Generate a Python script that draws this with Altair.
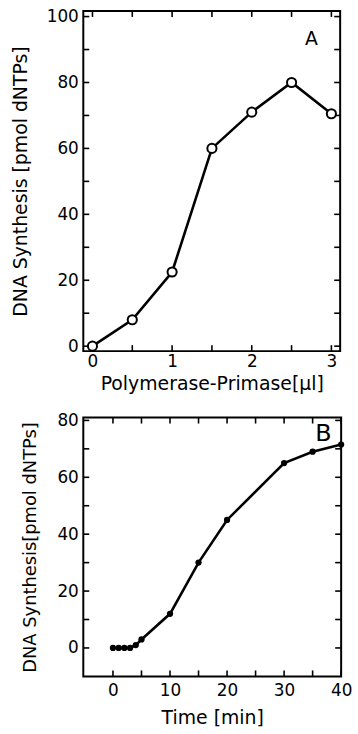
import altair as alt
import pandas as pd

# Panel A data
a_x = [0, 0.5, 1, 1.5, 2, 2.5, 3]
a_y = [0, 8, 22.5, 60, 71, 80, 70.5]
a_xticks = [0, 0.5, 1, 1.5, 2, 2.5, 3]
a_yticks = [0, 10, 20, 30, 40, 50, 60, 70, 80, 90, 100]
a_xlabels = [0, 1, 2, 3]
a_ylabels = [0, 20, 40, 60, 80, 100]

# Panel B data
b_x = [0, 1, 2, 3, 4, 5, 10, 15, 20, 30, 35, 40]
b_y = [0, 0, 0, 0, 1, 3, 12, 30, 45, 65, 69, 71.5]
b_xticks = [0, 5, 10, 15, 20, 25, 30, 35, 40]
b_yticks = [0, 10, 20, 30, 40, 50, 60, 70, 80]
b_xlabels = [0, 10, 20, 30, 40]
b_ylabels = [0, 20, 40, 60, 80]

FONT = "DejaVu Sans"


def panel(xs, ys, xdom, ydom, xticks, yticks, xlabels, ylabels,
          xtitle, ytitle, W, H, letter, lx, ly, lsize, filled, psize,
          xtitle_size, ytitle_size, x_lp, x_tp, y_lp, y_tp):
    df = pd.DataFrame({"x": xs, "y": ys})
    xsc = alt.Scale(domain=xdom, nice=False, zero=False)
    ysc = alt.Scale(domain=ydom, nice=False, zero=False)
    xax = alt.Axis(values=xlabels, title=xtitle, ticks=False, domain=False,
                   grid=False, labelPadding=x_lp, titlePadding=x_tp,
                   labelFlush=False, labelOverlap=False, format="d",
                   titleFontSize=xtitle_size)
    yax = alt.Axis(values=ylabels, title=ytitle, ticks=False, domain=False,
                   grid=False, labelPadding=y_lp, titlePadding=y_tp,
                   labelFlush=False, labelOverlap=False, format="d",
                   titleFontSize=ytitle_size)
    X = alt.X("x:Q", scale=xsc, axis=xax)
    Y = alt.Y("y:Q", scale=ysc, axis=yax)

    line = alt.Chart(df).mark_line(color="black", strokeWidth=2.6).encode(x=X, y=Y)
    if filled:
        pts = alt.Chart(df).mark_point(shape="circle", filled=True, color="black",
                                       size=psize, opacity=1).encode(x=X, y=Y)
    else:
        pts = alt.Chart(df).mark_point(shape="circle", filled=True, fill="white",
                                       stroke="black", strokeWidth=2,
                                       size=psize, opacity=1).encode(x=X, y=Y)

    xt = pd.DataFrame({"x": xticks})
    yt = pd.DataFrame({"y": yticks})
    tk = dict(color="black", strokeWidth=1.6)
    left = alt.Chart(yt).mark_rule(**tk).encode(y=Y, x=alt.value(0), x2=alt.value(6))
    right = alt.Chart(yt).mark_rule(**tk).encode(y=Y, x=alt.value(W - 6), x2=alt.value(W))
    bottom = alt.Chart(xt).mark_rule(**tk).encode(x=X, y=alt.value(H), y2=alt.value(H - 6))
    top = alt.Chart(xt).mark_rule(**tk).encode(x=X, y=alt.value(0), y2=alt.value(6))

    lab = alt.Chart(pd.DataFrame({"t": [letter]})).mark_text(
        font=FONT, fontSize=lsize, color="black", align="center", baseline="middle"
    ).encode(text="t:N", x=alt.value(lx), y=alt.value(ly))

    return alt.layer(left, right, bottom, top, line, pts, lab).properties(width=W, height=H)


A = panel(a_x, a_y, [-0.115, 3.11], [-1.5, 101.7], a_xticks, a_yticks, a_xlabels, a_ylabels,
          "Polymerase-Primase[µl]", "DNA Synthesis [pmol dNTPs]", 259, 343,
          "A", 230, 28, 19, False, 85, 19, 19, 3, 5, 5, 16)
B = panel(b_x, b_y, [-5.2, 40], [-10, 81], b_xticks, b_yticks, b_xlabels, b_ylabels,
          "Time [min]", "DNA Synthesis[pmol dNTPs]", 260, 261,
          "B", 242, 17, 24, True, 40, 19, 18, 6, 10, 5, 18)

chart = alt.vconcat(A, B, spacing=15).configure_view(
    stroke="black", strokeWidth=2
).configure_axis(
    labelFont=FONT, titleFont=FONT, labelFontSize=17, labelColor="black",
    titleColor="black", titleFontWeight="normal"
).properties(
    padding={"left": 10, "top": 3, "right": 5, "bottom": 0},
    background="white"
)

chart.save("out.html", embed_options={"renderer": "svg", "actions": False})
